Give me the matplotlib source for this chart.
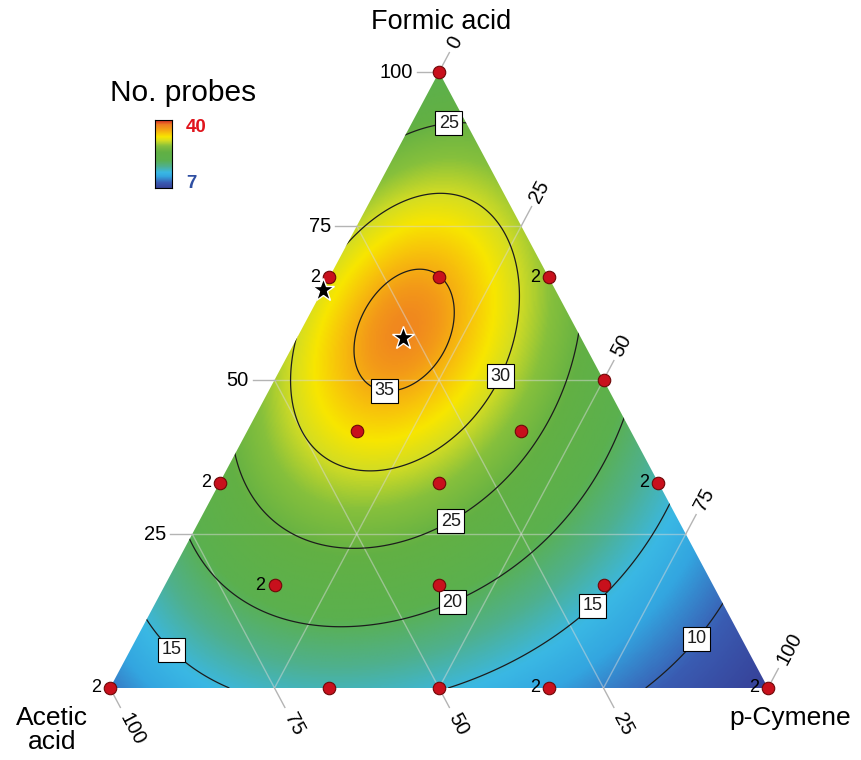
import numpy as np
import matplotlib
matplotlib.use("Agg")
import matplotlib.pyplot as plt
from matplotlib.colors import LinearSegmentedColormap
from matplotlib.patches import Polygon

plt.rcParams['font.family'] = ['Liberation Sans', 'DejaVu Sans']

# Response model for the number of probes:
#   probes = PEAK - sqrt(Q),  Q = special/full cubic Scheffe polynomial in (formic, acetic, p-cymene)
PEAK = 40.0
model_terms = ['F', 'A', 'C', 'FA', 'FC', 'AC', 'FAC', 'FA(F-A)', 'FC(F-C)', 'AC(A-C)']
model_coef = [361.983, 858.908, 1104.81, -1926.44, -1681.59,
              -1460.18, -1728.33, -153.489, -1122.87, -651.651]

# design points: formic, acetic, p-cymene fractions
formic  = [1, 0, 0, 2/3, 2/3, 2/3, 1/2, 1/3, 1/3, 5/12, 5/12, 1/3, 1/6, 1/6, 1/6, 0, 0, 0]
acetic  = [0, 1, 0, 1/3, 0, 1/6, 0, 2/3, 0, 5/12, 1/6, 1/3, 2/3, 5/12, 1/6, 2/3, 1/2, 1/3]
cymene  = [0, 0, 1, 0, 1/3, 1/6, 1/2, 0, 2/3, 1/6, 5/12, 1/3, 1/6, 5/12, 2/3, 1/3, 1/2, 2/3]
replicates = [1, 2, 2, 2, 2, 1, 1, 2, 2, 1, 1, 1, 2, 1, 1, 1, 1, 2]

# optimum blends (stars)
star_formic = [0.568, 0.646]
star_cymene = [0.161, 0.0]

levels = [10, 15, 20, 25, 30, 35]
label_formic = [0.929, 0.503, 0.503, 0.279, 0.154, 0.151, 0.065, 0.078]
label_cymene = [0.049, 0.168, 0.349, 0.374, 0.437, 0.643, 0.063, 0.855]

tick_values = [0, 25, 50, 75, 100]
vmin, vmax = 7, 40


def terms(F, A, C):
    return np.stack([F, A, C, F*A, F*C, A*C, F*A*C,
                     F*A*(F-A), F*C*(F-C), A*C*(A-C)], axis=-1)


def probes(F, A, C):
    q = terms(F, A, C) @ np.asarray(model_coef)
    return PEAK - np.sqrt(np.clip(q, 0, None))


def to_xy(f, c):
    f = np.asarray(f, float); c = np.asarray(c, float)
    return c + f/2, f


def v2p(v):
    return (v - vmin)/(vmax - vmin)


cmap = LinearSegmentedColormap.from_list('probes', [
    (v2p(7),    '#37439a'),
    (v2p(9.5),  '#3a5cb2'),
    (v2p(12.5), '#33a6e0'),
    (v2p(14.5), '#3ab8e4'),
    (v2p(17.5), '#4fb08c'),
    (v2p(20.5), '#5bb04e'),
    (v2p(24.5), '#62b044'),
    (v2p(27.5), '#86c03c'),
    (v2p(30),   '#d2dc24'),
    (v2p(32),   '#f8e600'),
    (v2p(34),   '#f7c00c'),
    (v2p(36),   '#f39a18'),
    (v2p(38),   '#ef7e22'),
    (v2p(40),   '#d42c26'),
])

W, H = 862, 760
fig = plt.figure(figsize=(W/100, H/100), dpi=100)
ax = fig.add_axes([110/W, 72/H, 658/W, 616/H])
ax.set_xlim(0, 1); ax.set_ylim(0, 1)
ax.axis('off')

px = 1/658   # one pixel in horizontal data units
py = 1/616   # one pixel in vertical data units

# response surface on a cartesian grid over the simplex
n = 500
gx, gy = np.meshgrid(np.linspace(0, 1, n), np.linspace(0, 1, n))
F = gy; C = gx - gy/2; A = 1 - F - C
inside = (C >= -0.03) & (A >= -0.03)
Z = probes(F, A, C)
Z[~inside] = np.nan

tri = Polygon([[0, 0], [1, 0], [0.5, 1]], closed=True, transform=ax.transData,
              facecolor='none', edgecolor='none')
ax.add_patch(tri)
im = ax.imshow(Z, extent=[0, 1, 0, 1], origin='lower', cmap=cmap, vmin=vmin, vmax=vmax,
               interpolation='bilinear', aspect='auto', zorder=1)
im.set_clip_path(tri)

# grid lines at 25/50/75 % of each component
for g in [0.25, 0.5, 0.75]:
    kw = dict(color='#d8d8d8', lw=1.0, alpha=0.5, zorder=2)
    x1, y1 = to_xy(g, 0); x2, y2 = to_xy(g, 1-g); ax.plot([x1, x2], [y1, y2], **kw)
    x1, y1 = to_xy(0, g); x2, y2 = to_xy(1-g, g); ax.plot([x1, x2], [y1, y2], **kw)
    x1, y1 = to_xy(0, 1-g); x2, y2 = to_xy(1-g, 0); ax.plot([x1, x2], [y1, y2], **kw)

cs = ax.contour(gx, gy, Z, levels=levels, colors='#1c1c1c', linewidths=0.9, zorder=3)
cs.set_clip_path(tri)
lx, ly = to_xy(label_formic, label_cymene)
labels = ax.clabel(cs, levels, manual=list(zip(lx, ly)), inline=False, fmt='%d', fontsize=13)
for t in labels:
    t.set_rotation(0)
    t.set_zorder(6)
    t.set_bbox(dict(facecolor='white', edgecolor='black', lw=0.8, pad=2.5))

# component axes: tick lines and labels
tick_kw = dict(color='#b4b4b4', lw=1.0, clip_on=False, zorder=2)
dl = 22
ux, uy = 0.471, 0.882
for v in tick_values:
    g = v/100
    # formic acid: horizontal ticks to the left
    if v > 0:
        x0, y0 = to_xy(g, 0)
        ax.plot([x0, x0 - dl*px], [y0, y0], **tick_kw)
        ax.text(x0 - 26*px, y0, str(v), ha='right', va='center', fontsize=14.5, clip_on=False)
    # p-cymene: ticks up-right along the acetic-formic edge direction
    x0, y0 = to_xy(1-g, g)
    ax.plot([x0, x0 + dl*ux*px], [y0, y0 + dl*uy*py], **tick_kw)
    ax.text(x0 + 28*ux*px, y0 + 28*uy*py, str(v), rotation=62, rotation_mode='anchor',
            ha='left', va='center', fontsize=14.5, clip_on=False)
    # acetic acid: ticks down-right along the formic-cymene edge direction
    if v > 0:
        x0, y0 = to_xy(0, 1-g)
        ax.plot([x0, x0 + dl*ux*px], [y0, y0 - dl*uy*py], **tick_kw)
        ax.text(x0 + 30*ux*px, y0 - 30*uy*py, str(v), rotation=-62, rotation_mode='anchor',
                ha='left', va='center', fontsize=14.5, clip_on=False)

# design points with replicate counts
dx, dy = to_xy(formic, cymene)
ax.plot(dx, dy, 'o', ms=9, mfc='#c8101c', mec='#6e0808', mew=0.8, zorder=7, clip_on=False)
for x, y, r in zip(dx, dy, replicates):
    if r > 1:
        ax.text(x - 9*px, y, str(r), ha='right', va='center', fontsize=13, zorder=7)

sx, sy = to_xy(star_formic, star_cymene)
ax.plot(sx, sy, '*', ms=17, mfc='black', mec='white', mew=1.0, zorder=8, clip_on=False)

# component names
fig.text(441/W, 1-22/H, 'Formic acid', ha='center', va='center', fontsize=19.5)
fig.text(52/W, 1-730/H, 'Acetic\nacid', ha='center', va='center', fontsize=19, linespacing=1.05)
fig.text(790/W, 1-718/H, 'p-Cymene', ha='center', va='center', fontsize=19)

# colour legend
fig.text(183/W, 1-93/H, 'No. probes', ha='center', va='center', fontsize=21.5)
cax = fig.add_axes([155/W, 1-188/H, 17/W, 68/H])
cax.imshow(np.linspace(vmax, vmin, 100)[:, None], cmap=cmap, vmin=vmin, vmax=vmax, aspect='auto')
cax.set_xticks([]); cax.set_yticks([])
for s in cax.spines.values():
    s.set_linewidth(0.8)
fig.text(186/W, 1-128/H, str(vmax), ha='left', va='center', fontsize=13.5,
         fontweight='bold', color='#e0141c')
fig.text(186/W, 1-183/H, str(vmin), ha='left', va='center', fontsize=13.5,
         fontweight='bold', color='#2f4fa2')

fig.savefig('out.png', dpi=100)
